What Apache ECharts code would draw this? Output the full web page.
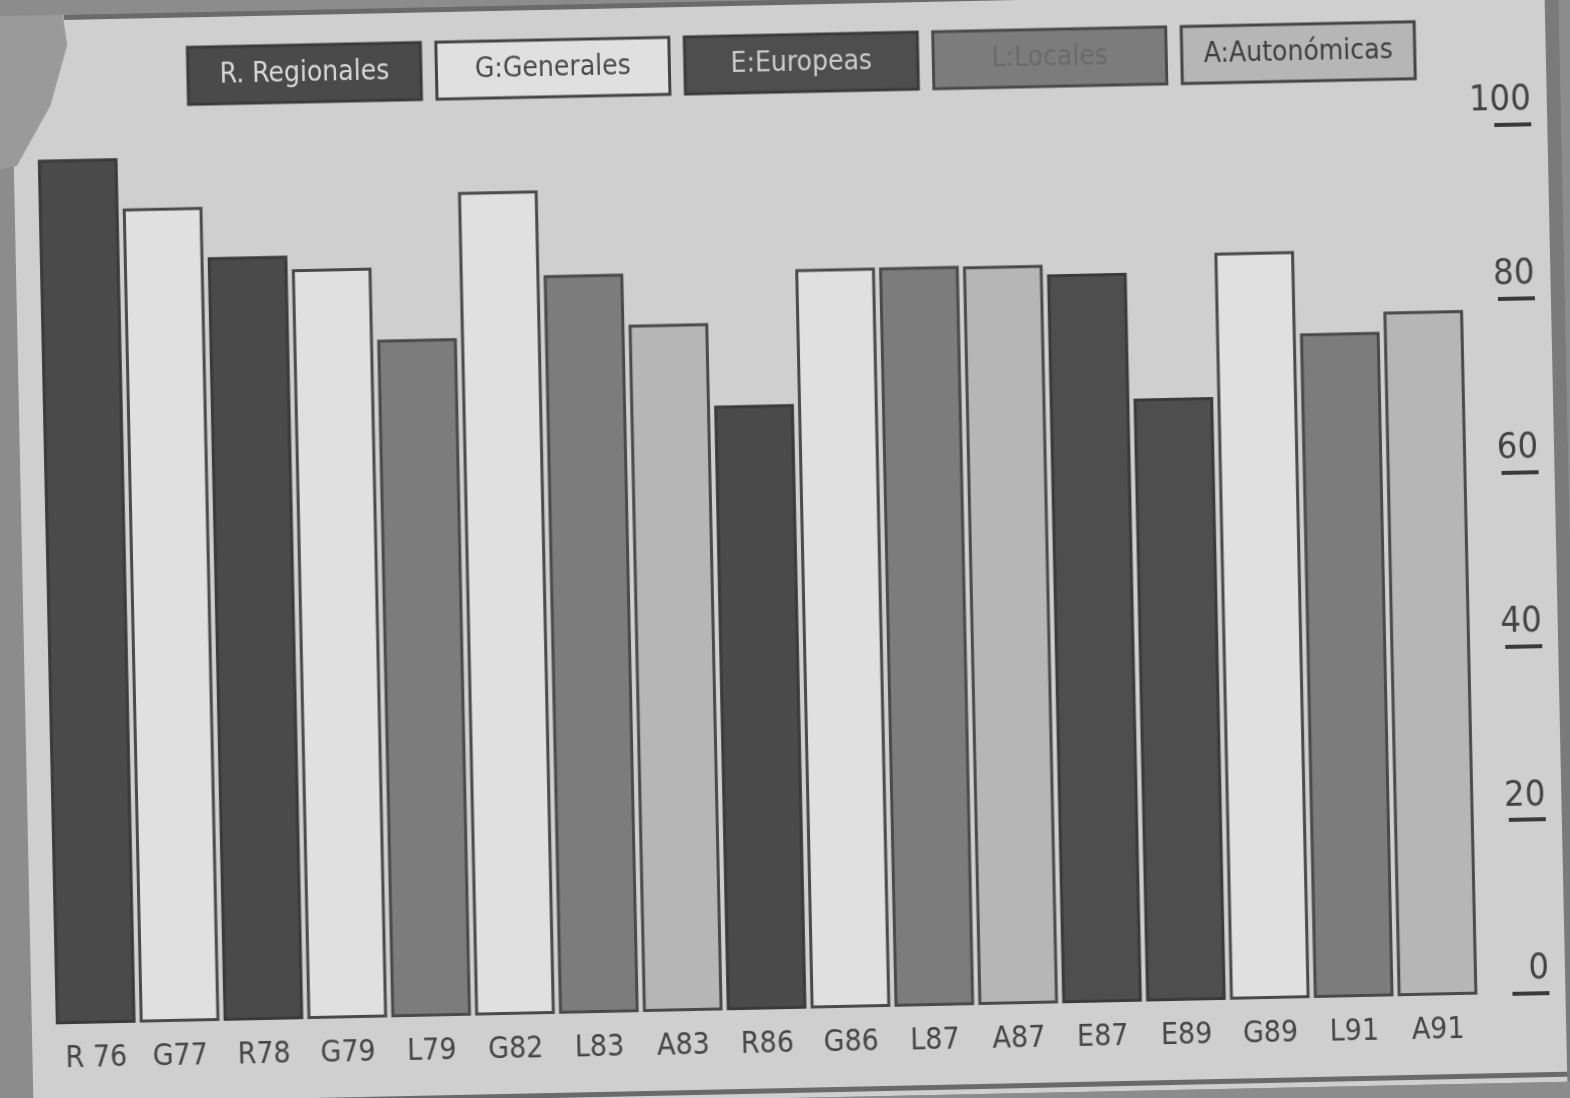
<!DOCTYPE html>
<html>
<head>
<meta charset="utf-8">
<script src="https://cdn.jsdelivr.net/npm/echarts@6/dist/echarts.min.js"></script>
<style>
  html, body { margin: 0; padding: 0; background: #8c8c8c; overflow: hidden; }
  #chart { width: 1570px; height: 1098px; transform: rotate(-1.2deg); transform-origin: 785px 549px; }
</style>
</head>
<body>
<div id="chart"></div>
<script>
// ---- data ----
const categories = ['R 76', 'G77', 'R78', 'G79', 'L79', 'G82', 'L83', 'A83', 'R86', 'G86', 'L87', 'A87', 'E87', 'E89', 'G89', 'L91', 'A91'];
const values = [99.5, 93.7, 87.9, 86.3, 78.0, 94.8, 85.0, 79.1, 69.6, 85.1, 85.1, 85.0, 83.9, 69.4, 86.0, 76.5, 78.8];
const typeKeys = ['R', 'G', 'E', 'L', 'A'];
const typeNames = ['R. Regionales', 'G:Generales', 'E:Europeas', 'L:Locales', 'A:Autonómicas'];
const yTicks = [0, 20, 40, 60, 80, 100];

// ---- styles ----
const FONT = "'Liberation Sans Narrow', 'DejaVu Sans Condensed', 'Liberation Sans', sans-serif";
const styles = {
  R: { fill: '#4a4a4a', border: '#3a3a3a', text: '#d8d8d8' },
  G: { fill: '#e0e0e0', border: '#4a4a4a', text: '#4a4a4a' },
  E: { fill: '#4e4e4e', border: '#3a3a3a', text: '#cccccc' },
  L: { fill: '#7c7c7c', border: '#4a4a4a', text: '#6a6a6a' },
  A: { fill: '#b6b6b6', border: '#4a4a4a', text: '#3e3e3e' }
};

const series = typeKeys.map((k, si) => ({
  type: 'bar',
  name: typeNames[si],
  data: values.map((v, i) => categories[i].charAt(0) === k ? v : '-'),
  barWidth: '95%',
  barGap: '-100%',
  itemStyle: { color: styles[k].fill, borderColor: styles[k].border, borderWidth: 3 },
  emphasis: { disabled: true }
}));

// legend boxes (text inside boxes), built from the names array
const LEG_LEFT = 198, LEG_TOP = 35, LEG_W = 233, LEG_H = 57, LEG_STEP = 248.5;
const legendGraphics = typeKeys.map((k, i) => ({
  type: 'group',
  x: LEG_LEFT + i * LEG_STEP,
  y: LEG_TOP,
  silent: true,
  children: [
    { type: 'rect', shape: { x: 0, y: 0, width: LEG_W, height: LEG_H },
      style: { fill: styles[k].fill, stroke: (k === 'G' || k === 'A') ? '#444' : styles[k].border, lineWidth: 3 } },
    { type: 'text', x: LEG_W / 2, y: LEG_H / 2,
      style: { text: typeNames[i], fill: styles[k].text, font: '28px ' + FONT, align: 'center', verticalAlign: 'middle' } }
  ]
}));

const chart = echarts.init(document.getElementById('chart'), null, { renderer: 'canvas' });
chart.setOption({
  backgroundColor: '#cfcfcf',
  animation: false,
  grid: { left: 44, right: 100, top: 140, bottom: 89 },
  xAxis: {
    type: 'category',
    data: categories,
    axisLine: { show: false },
    axisTick: { show: false },
    axisLabel: { color: '#454545', fontSize: 30, fontFamily: FONT, margin: 20, interval: 0 }
  },
  yAxis: {
    type: 'value',
    position: 'right',
    min: 0,
    max: 100,
    interval: 20,
    offset: 33,
    splitLine: { show: false },
    axisLine: { show: false },
    axisTick: { show: true, length: 37, lineStyle: { color: '#3a3a3a', width: 4 } },
    axisLabel: {
      color: '#444',
      fontSize: 36,
      fontFamily: FONT,
      align: 'right',
      verticalAlign: 'bottom',
      margin: 37,
      padding: [0, 0, 6, 0],
      formatter: v => yTicks.includes(v) ? String(v) : ''
    }
  },
  graphic: [
    { type: 'rect', shape: { x: -30, y: 150, width: 52, height: 1000 }, style: { fill: '#8c8c8c' }, silent: true },
    { type: 'polygon', shape: { points: [[-30, -30], [70, -30], [78, 30], [60, 90], [25, 150], [-30, 160]] }, style: { fill: '#9a9a9a' }, silent: true },
    { type: 'rect', shape: { x: 75, y: 0, width: 1520, height: 5 }, style: { fill: '#6a6a6a' }, silent: true },
    { type: 'rect', shape: { x: 20, y: 1088, width: 1580, height: 5 }, style: { fill: '#6a6a6a' }, silent: true },
    { type: 'rect', shape: { x: 1556, y: -20, width: 40, height: 1140 }, style: { fill: '#7a7a7a' }, silent: true }
  ].concat(legendGraphics),
  series: series
});
</script>
</body>
</html>
